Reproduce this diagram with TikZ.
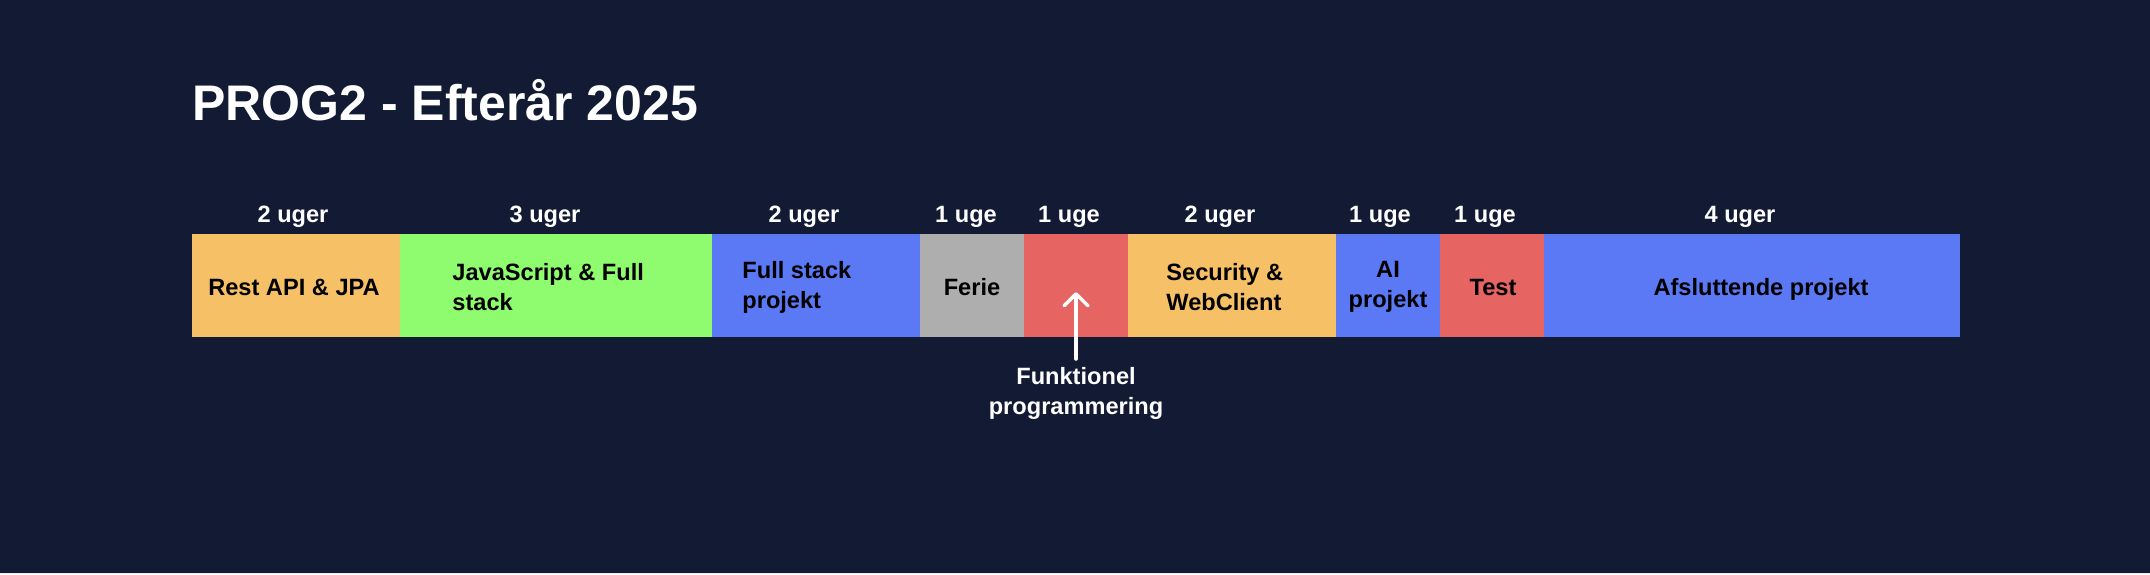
\documentclass[tikz,border=0pt]{standalone}
\usepackage{fontspec}
\setmainfont{Liberation Sans}
\usetikzlibrary{arrows.meta}
\definecolor{bg}{RGB}{19,26,51}
\definecolor{corange}{RGB}{246,192,102}
\definecolor{cgreen}{RGB}{142,252,110}
\definecolor{cblue}{RGB}{91,120,245}
\definecolor{cgray}{RGB}{174,174,174}
\definecolor{cred}{RGB}{230,101,98}
\begin{document}
\begin{tikzpicture}[x=0.5pt,y=-0.5pt,
  cell/.style={draw=none, inner sep=0pt, outer sep=0pt, minimum height=51.5pt, anchor=west},
  lbl/.style={font=\fontsize{11.8}{15}\selectfont\bfseries, text=black, inner sep=0pt},
  wk/.style={font=\fontsize{11.8}{15}\selectfont\bfseries, text=white, inner sep=0pt, anchor=base},
  arr/.style={draw=white, line width=1.75pt, line cap=round, -{Straight Barb[length=6pt, width=12pt, round]}},
]
\fill[bg] (0,0) rectangle (2150,574);
\fill[black!8] (0,572.5) rectangle (2150,574);
\useasboundingbox (0,0) rectangle (2150,574);

% title
\node[font=\fontsize{25}{30}\selectfont\bfseries, text=white, inner sep=0pt, anchor=base west] (title) at (192,120.5) {PROG2 - Efterår 2025};

% cells
\node[cell, fill=corange, minimum width=104pt] (c1) at (192,285.5) {};
\node[cell, fill=cgreen,  minimum width=156pt] (c2) at (400,285.5) {};
\node[cell, fill=cblue,   minimum width=104pt] (c3) at (712,285.5) {};
\node[cell, fill=cgray,   minimum width=52pt]  (c4) at (920,285.5) {};
\node[cell, fill=cred,    minimum width=52pt]  (c5) at (1024,285.5) {};
\node[cell, fill=corange, minimum width=104pt] (c6) at (1128,285.5) {};
\node[cell, fill=cblue,   minimum width=52pt]  (c7) at (1336,285.5) {};
\node[cell, fill=cred,    minimum width=52pt]  (c8) at (1440,285.5) {};
\node[cell, fill=cblue,   minimum width=208pt] (c9) at (1544,285.5) {};

% week labels
\node[wk] (w1) at (293,222) {2 uger};
\node[wk] (w2) at (545,222) {3 uger};
\node[wk] (w3) at (804,222) {2 uger};
\node[wk] (w4) at (966,222) {1 uge};
\node[wk] (w5) at (1069,222) {1 uge};
\node[wk] (w6) at (1220,222) {2 uger};
\node[wk] (w7) at (1380,222) {1 uge};
\node[wk] (w8) at (1485,222) {1 uge};
\node[wk] (w9) at (1740,222) {4 uger};

% cell labels
\node[lbl, anchor=base] (t1) at (294,295) {Rest API \& JPA};
\node[lbl, anchor=west, align=left] (t2) at (452,287) {JavaScript \& Full\\stack};
\node[lbl, anchor=west, align=left] (t3) at (742,287) {Full stack\\projekt};
\node[lbl, anchor=base] (t4) at (972,295) {Ferie};
\node[lbl, anchor=west, align=left] (t6) at (1166,287) {Security \&\\WebClient};
\node[lbl, align=center] (t7) at (1388,287) {AI\\projekt};
\node[lbl, anchor=base] (t8) at (1493,295) {Test};
\node[lbl, anchor=base] (t9) at (1761,295) {Afsluttende projekt};

% annotation
\node[wk, anchor=north, align=center] (funk) at (1076,367) {Funktionel\\programmering};
\coordinate (abot) at (1076,359);
\coordinate (atip) at (1076,292);
\draw[arr] (abot) -- (atip);
\end{tikzpicture}
\end{document}
